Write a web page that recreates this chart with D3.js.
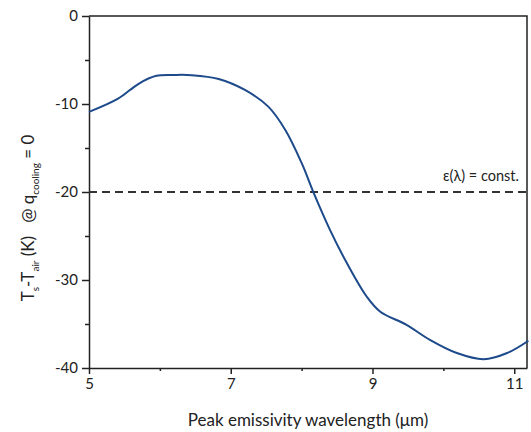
<!DOCTYPE html>
<html>
<head>
<meta charset="utf-8">
<script src="https://cdn.jsdelivr.net/npm/d3@7"></script>
<style>
  body { margin: 0; background: #fff; }
  text { font-family: Lato, "Open Sans", sans-serif; fill: #222; }
</style>
</head>
<body>
<div id="container"></div>
<script>
/* DATA */
// peak emissivity wavelength (um) and temperature difference (K)
const wavelength = [5.0, 5.41, 5.7, 5.95, 6.2, 6.45, 6.83, 7.2, 7.53, 7.77, 8.0, 8.17, 8.4, 8.64, 8.92, 9.11, 9.48, 9.81, 10.19, 10.57, 10.9, 11.2];
const tempDiff   = [-10.9, -9.4, -7.7, -6.8, -6.7, -6.72, -7.15, -8.4, -10.3, -12.95, -16.7, -20.1, -24.3, -28.1, -31.9, -33.6, -35.1, -36.8, -38.3, -39.0, -38.3, -36.9];
const constLevel = -20;
const xMajor = [5, 7, 9, 11];
const xMinor = [6, 8, 10];
const yMajor = [0, -10, -20, -30, -40];
const yMinor = [-5, -15, -25, -35];

/* CONSTANTS */
const width = 531, height = 432;
const margin = { top: 16, right: 4, bottom: 64, left: 89 };

const svg = d3.select("#container")
  .append("svg")
  .attr("width", width)
  .attr("height", height);

const xScale = d3.scaleLinear()
  .domain([5, 11.18])
  .range([margin.left, width - margin.right]);

const yScale = d3.scaleLinear()
  .domain([-40, 0])
  .range([height - margin.bottom, margin.top]);

const axisColor = "#222";
const plainNum = d => String(d); // hyphen minus like the original

// frame top & right
svg.append("path")
  .attr("d", `M${xScale.range()[0]},${yScale(0)}H${xScale.range()[1]}V${yScale(-40)}`)
  .attr("fill", "none")
  .attr("stroke", axisColor)
  .attr("stroke-width", 1.5);

// x axis
svg.append("g")
  .attr("transform", `translate(0,${yScale(-40)})`)
  .call(d3.axisBottom(xScale).tickValues(xMajor).tickFormat(plainNum).tickSize(6).tickPadding(4).tickSizeOuter(0));
svg.append("g")
  .attr("transform", `translate(0,${yScale(-40)})`)
  .call(d3.axisBottom(xScale).tickValues(xMinor).tickSize(3).tickFormat("").tickSizeOuter(0))
  .select(".domain").remove();

// y axis
svg.append("g")
  .attr("transform", `translate(${xScale(5)},0)`)
  .call(d3.axisLeft(yScale).tickValues(yMajor).tickFormat(plainNum).tickSize(7).tickPadding(4).tickSizeOuter(0));
svg.append("g")
  .attr("transform", `translate(${xScale(5)},0)`)
  .call(d3.axisLeft(yScale).tickValues(yMinor).tickSize(4).tickFormat("").tickSizeOuter(0))
  .select(".domain").remove();

svg.selectAll(".domain, .tick line")
  .attr("stroke", axisColor)
  .attr("stroke-width", 1.5);
svg.selectAll(".tick text")
  .attr("font-family", "Lato, 'Open Sans', sans-serif")
  .attr("font-size", 15)
  .attr("fill", "#333");

// constant emissivity reference line
svg.append("line")
  .attr("x1", xScale(5))
  .attr("x2", xScale.range()[1])
  .attr("y1", yScale(constLevel))
  .attr("y2", yScale(constLevel))
  .attr("stroke", "#333")
  .attr("stroke-width", 2)
  .attr("stroke-dasharray", "8,5");

svg.append("text")
  .attr("x", xScale.range()[1] - 8)
  .attr("y", yScale(constLevel) - 11)
  .attr("text-anchor", "end")
  .attr("font-size", 14.5)
  .text("ε(λ) = const.");

// curve
const line = d3.line()
  .x((d, i) => xScale(wavelength[i]))
  .y(d => yScale(d))
  .curve(d3.curveCatmullRom.alpha(0.5));

svg.append("path")
  .datum(tempDiff)
  .attr("d", line)
  .attr("fill", "none")
  .attr("stroke", "#1d4a8a")
  .attr("stroke-width", 2);

// axis titles
svg.append("text")
  .attr("x", (xScale.range()[0] + xScale.range()[1]) / 2)
  .attr("y", 426)
  .attr("text-anchor", "middle")
  .attr("font-size", 17)
  .text("Peak emissivity wavelength (μm)");

const yTitle = svg.append("text")
  .attr("transform", `translate(34,${(margin.top + yScale(-40)) / 2 + 26}) rotate(-90)`)
  .attr("text-anchor", "middle")
  .attr("font-size", 17);
yTitle.append("tspan").text("T");
yTitle.append("tspan").attr("font-size", 10).attr("dy", 5).text("s");
yTitle.append("tspan").attr("dy", -5).text("-T");
yTitle.append("tspan").attr("font-size", 10).attr("dy", 5).text("air");
yTitle.append("tspan").attr("dy", -5).text(" (K)\u00a0\u00a0 @ q");
yTitle.append("tspan").attr("font-size", 10).attr("dy", 5).text("cooling");
yTitle.append("tspan").attr("dy", -5).text(" = 0");
</script>
</body>
</html>
